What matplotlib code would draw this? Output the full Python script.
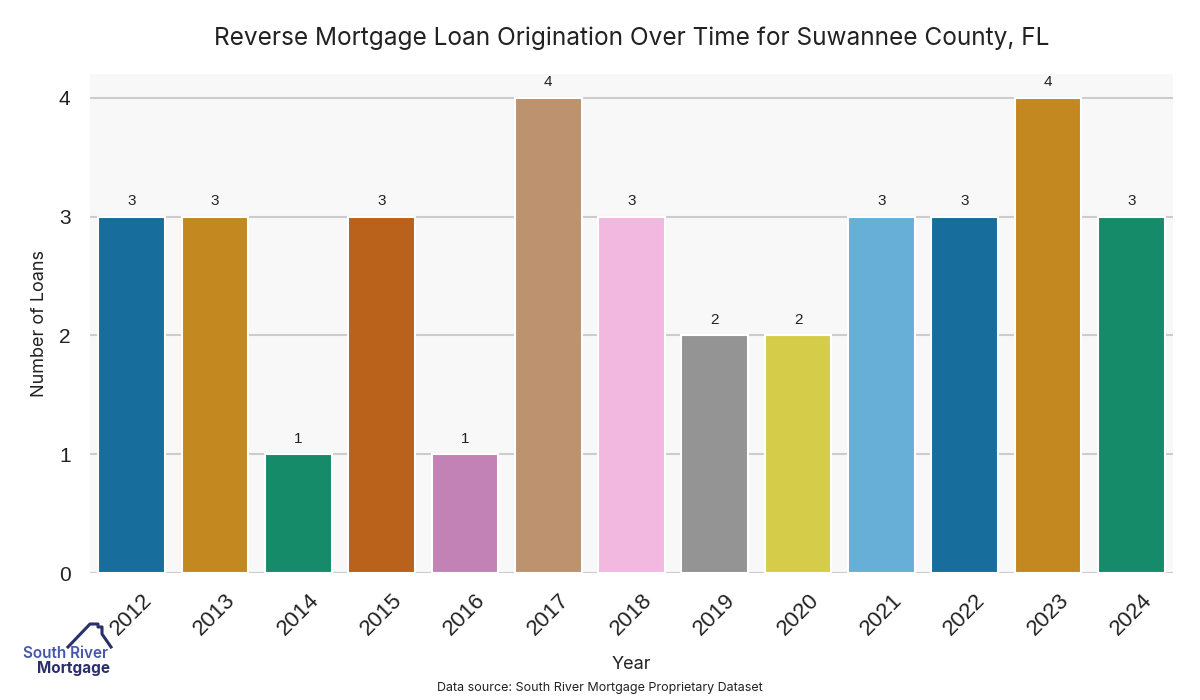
import matplotlib
matplotlib.use("Agg")
import matplotlib.pyplot as plt
import seaborn as sns
from matplotlib.lines import Line2D

years = ["2012", "2013", "2014", "2015", "2016", "2017", "2018", "2019", "2020", "2021", "2022", "2023", "2024"]
loans = [3, 3, 1, 3, 1, 4, 3, 2, 2, 3, 3, 4, 3]

title = "Reverse Mortgage Loan Origination Over Time for Suwannee County, FL"
xlabel = "Year"
ylabel = "Number of Loans"
source = "Data source: South River Mortgage Proprietary Dataset"

base = sns.color_palette("colorblind", 10)
colors = [sns.desaturate(base[i % 10], 0.75) for i in range(len(years))]

fig = plt.figure(figsize=(12, 7), dpi=100)
ax = fig.add_axes([0.075, 0.1814, 0.9025, 0.713])
ax.set_facecolor("#f8f8f8")
for s in ax.spines.values():
    s.set_visible(False)

x = range(len(years))
bars = ax.bar(x, loans, width=0.8, color=colors, edgecolor="white", linewidth=1.5, zorder=3)
ax.yaxis.grid(True, color="#cccccc", linewidth=1.5, zorder=0)
ax.set_axisbelow(True)
ax.set_xlim(-0.5, len(years) - 0.5)
ax.set_ylim(0, 4.2)
ax.set_yticks([0, 1, 2, 3, 4])
ax.set_xticks(list(x))
ax.set_xticklabels(years, rotation=45, fontsize=16, color="#222222", family="Liberation Sans")
ax.tick_params(axis="y", labelsize=15, labelcolor="#222222", length=0, pad=14)
ax.tick_params(axis="x", length=0, pad=12)
for lbl in ax.get_yticklabels():
    lbl.set_family("Liberation Sans")

for xi, v in zip(x, loans):
    ax.text(xi, v + 0.07, str(v), ha="center", va="bottom", fontsize=11, color="#222222", family="Liberation Sans")

ax.set_ylabel(ylabel, fontsize=13, color="#222222", family="Inter", labelpad=8)
ax.set_xlabel(xlabel, fontsize=13, color="#222222", family="Inter", labelpad=12)
fig.text(0.526, 0.946, title, ha="center", va="center", fontsize=17.6, color="#222222", family="Inter")
fig.text(0.5, 0.017, source, ha="center", va="center", fontsize=9, color="#222222", family="Inter")

# logo
def fx(px):
    return px / 1200
def fy(py):
    return 1 - py / 700
roof_x = [68, 90, 98, 98, 102, 102, 111]
roof_y = [647, 624, 624, 627, 627, 634, 647]
fig.add_artist(Line2D([fx(v) for v in roof_x], [fy(v) for v in roof_y], color="#2b2f6b", linewidth=2.2, transform=fig.transFigure))
fig.text(fx(23), fy(654), "South River", ha="left", va="center", fontsize=11, color="#4557a8", family="Inter", fontweight="semibold")
fig.text(fx(37), fy(669), "Mortgage", ha="left", va="center", fontsize=11, color="#2b2f6b", family="Inter", fontweight="bold")

fig.savefig("out.png", dpi=100, facecolor="white")
